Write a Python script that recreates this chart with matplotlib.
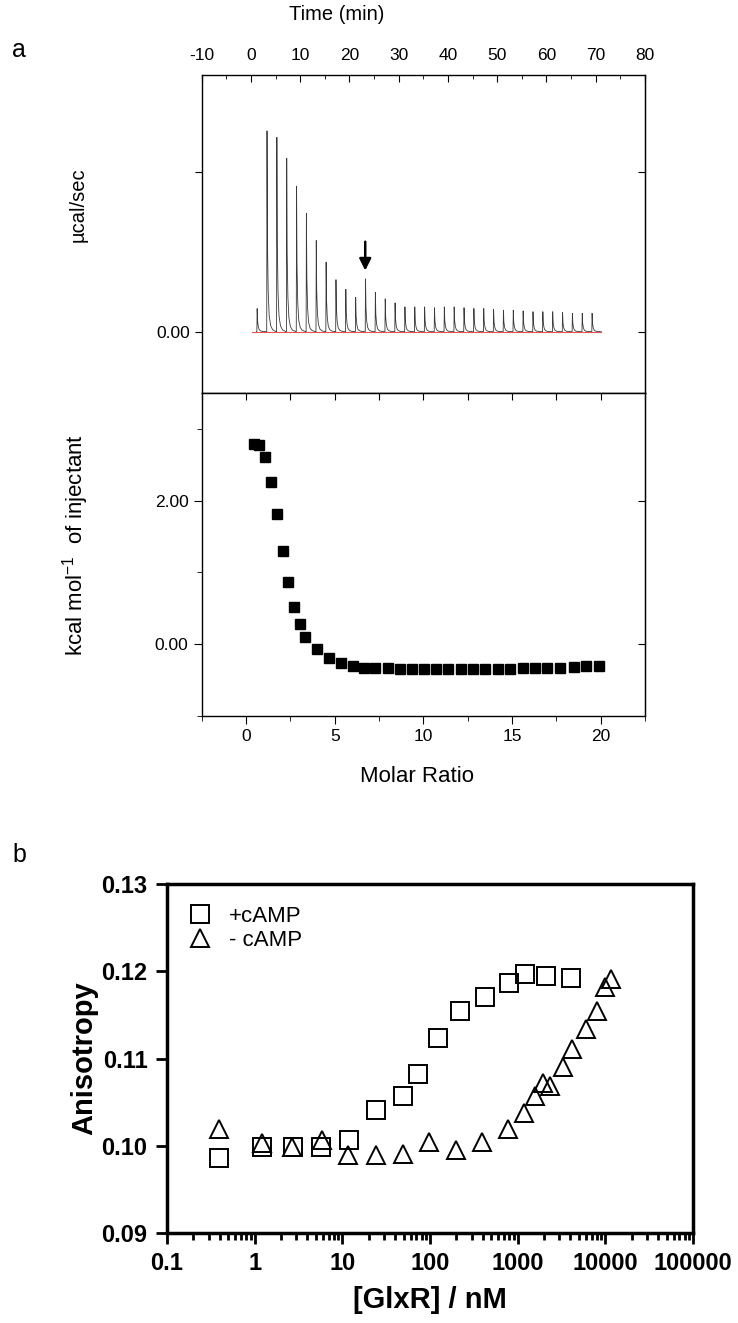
import matplotlib
matplotlib.use('Agg')
import matplotlib.pyplot as plt
from matplotlib.ticker import MultipleLocator, FixedLocator, FuncFormatter, LogLocator, NullFormatter
import numpy as np

plt.rcParams['font.family'] = ['Liberation Sans', 'DejaVu Sans']
plt.rcParams['axes.unicode_minus'] = False
plt.rcParams['mathtext.fontset'] = 'custom'
plt.rcParams['mathtext.rm'] = 'Liberation Sans'

# ---- panel a, raw ITC trace: one peak per injection
inj_time = [1.2, 3.2, 5.2, 7.2, 9.2, 11.2, 13.2, 15.2, 17.2, 19.2, 21.2, 23.2,
            25.2, 27.2, 29.2, 31.2, 33.2, 35.2, 37.2, 39.2, 41.2, 43.2, 45.2,
            47.2, 49.2, 51.2, 53.2, 55.2, 57.2, 59.2, 61.2, 63.2, 65.2, 67.2, 69.2]
peak_height = [0.029, 0.251, 0.243, 0.217, 0.182, 0.148, 0.114, 0.087, 0.065,
               0.053, 0.043, 0.066, 0.049, 0.041, 0.036, 0.031, 0.031, 0.031,
               0.030, 0.031, 0.031, 0.030, 0.029, 0.029, 0.028, 0.027, 0.027,
               0.026, 0.025, 0.025, 0.025, 0.024, 0.023, 0.023, 0.023]
baseline_time = [0.2, 71.0]
baseline_val = [0.0, 0.0]
arrow_time = 23.2

# ---- panel a, integrated heats
molar_ratio = [0.44, 0.73, 1.07, 1.39, 1.72, 2.06, 2.37, 2.69, 3.02, 3.34, 4.03,
               4.68, 5.34, 6.01, 6.66, 7.3, 8.0, 8.67, 9.36, 10.04, 10.7, 11.4,
               12.1, 12.8, 13.5, 14.2, 14.9, 15.6, 16.3, 17.0, 17.7, 18.5, 19.2, 19.9]
heat = [2.79, 2.77, 2.61, 2.26, 1.81, 1.30, 0.87, 0.52, 0.28, 0.10, -0.06,
        -0.19, -0.26, -0.30, -0.33, -0.33, -0.33, -0.35, -0.35, -0.35, -0.34,
        -0.35, -0.35, -0.34, -0.34, -0.34, -0.34, -0.33, -0.33, -0.33, -0.33,
        -0.32, -0.31, -0.30]

# ---- panel b, fluorescence anisotropy
glxr_plus = [0.393, 1.2, 2.71, 5.78, 12.05, 23.9, 49.2, 73.3, 123.6, 219, 419,
             800, 1206, 2110, 4030]
aniso_plus = [0.0986, 0.0998, 0.0998, 0.0999, 0.1007, 0.1041, 0.1057, 0.1082,
              0.1123, 0.1154, 0.1170, 0.1186, 0.1197, 0.1194, 0.1192]
glxr_minus = [0.393, 1.2, 2.7, 5.8, 11.6, 23.9, 48.6, 98.6, 196, 393, 776, 1170,
              1580, 1930, 2320, 3330, 4190, 6060, 7990, 10000, 11740]
aniso_minus = [0.1019, 0.1003, 0.0999, 0.1007, 0.0989, 0.0989, 0.0991, 0.1004,
               0.0995, 0.1004, 0.1019, 0.1037, 0.1057, 0.1072, 0.1069, 0.1090,
               0.1111, 0.1134, 0.1155, 0.1182, 0.1191]

W, H = 738, 1323
fig = plt.figure(figsize=(W / 100, H / 100), dpi=100)


def box(l, t, r, b):
    return [l / W, 1 - b / H, (r - l) / W, (b - t) / H]


# peak shape used to draw each injection
shape_dt = [-0.05, 0.0, 0.06, 0.15, 0.3, 0.5, 0.8, 1.2, 1.9]
shape_fr = [0.0, 0.0, 1.0, 0.45, 0.2, 0.08, 0.03, 0.01, 0.0]

ax1 = fig.add_axes(box(201.7, 75, 645, 393))
tx, ty = [], []
for t, h in zip(inj_time, peak_height):
    tx.extend([t + d for d in shape_dt])
    ty.extend([h * f for f in shape_fr])
ax1.plot(baseline_time, baseline_val, color='#e05555', lw=0.8, zorder=3)
ax1.plot(tx, ty, color='#3a3a3a', lw=0.6, zorder=2)
ax1.annotate('', xy=(arrow_time, 0.073), xytext=(arrow_time, 0.116),
             arrowprops=dict(arrowstyle='-|>,head_width=0.35,head_length=0.7',
                             color='black', lw=1.8))
ax1.set_xlim(-10, 80)
ax1.set_ylim(-0.0766, 0.3209)
ax1.xaxis.set_ticks_position('top')
ax1.xaxis.set_major_locator(MultipleLocator(10))
ax1.xaxis.set_minor_locator(MultipleLocator(5))
ax1.tick_params(axis='x', which='both', direction='in', top=True, bottom=False,
                labeltop=True, labelbottom=False, labelsize=12.5, pad=9)
ax1.tick_params(axis='x', which='major', length=5)
ax1.tick_params(axis='x', which='minor', length=3)
ax1.yaxis.set_major_locator(FixedLocator([0.0, 0.2]))
ax1.yaxis.set_major_formatter(FuncFormatter(lambda v, p: '0.00' if abs(v) < 1e-9 else ''))
ax1.tick_params(axis='y', which='major', direction='out', length=5, labelsize=12.5)
r1 = ax1.secondary_yaxis('right')
r1.yaxis.set_major_locator(FixedLocator([0.0, 0.2]))
r1.tick_params(direction='in', length=5, labelright=False)
for s in ax1.spines.values():
    s.set_linewidth(1.0)

ax2 = fig.add_axes(box(201.7, 393, 645, 716))
ax2.plot(molar_ratio, heat, 's', color='black', ms=7)
ax2.set_xlim(-2.5, 22.5)
ax2.set_ylim(-1.0, 3.5)
ax2.xaxis.set_major_locator(MultipleLocator(5))
ax2.xaxis.set_minor_locator(MultipleLocator(2.5))
ax2.yaxis.set_major_locator(FixedLocator([0.0, 2.0]))
ax2.yaxis.set_minor_locator(FixedLocator([-1.0, 1.0, 3.0]))
ax2.yaxis.set_major_formatter(FuncFormatter(lambda v, p: '%.2f' % v))
ax2.tick_params(which='both', direction='out', labelsize=12.5, top=False, right=False)
ax2.tick_params(which='major', length=6)
ax2.tick_params(which='minor', length=3.5)
t2 = ax2.secondary_xaxis('top')
t2.xaxis.set_major_locator(MultipleLocator(2.5))
t2.tick_params(direction='in', length=5, labeltop=False)
r2 = ax2.secondary_yaxis('right')
r2.yaxis.set_major_locator(FixedLocator([0.0, 2.0]))
r2.tick_params(direction='in', length=5, labelright=False)
for s in ax2.spines.values():
    s.set_linewidth(1.0)

fig.text(12 / W, 1 - 50 / H, 'a', fontsize=18, va='center', ha='left')
fig.text(337 / W, 1 - 14 / H, 'Time (min)', fontsize=14.5, ha='center', va='center')
fig.text(78 / W, 1 - 205 / H, 'µcal/sec', fontsize=14.5, rotation=90, ha='center', va='center')
fig.text(76 / W, 1 - 545 / H, 'kcal mol$^{\\mathregular{-1}}$  of injectant', fontsize=16,
         rotation=90, ha='center', va='center')
fig.text(417 / W, 1 - 776 / H, 'Molar Ratio', fontsize=16, ha='center', va='center')

# ---- panel b
bfont = ['Liberation Sans Narrow', 'Liberation Sans', 'DejaVu Sans']
ax3 = fig.add_axes(box(167, 884, 693, 1233))
ax3.plot(glxr_plus, aniso_plus, 's', mfc='none', mec='black', mew=1.4, ms=13,
         label='+cAMP')
ax3.plot(glxr_minus, aniso_minus, '^', mfc='none', mec='black', mew=1.4, ms=13,
         label='- cAMP')
ax3.set_xscale('log')
ax3.set_xlim(0.1, 100000)
ax3.set_ylim(0.09, 0.13)
ax3.xaxis.set_major_locator(LogLocator(base=10, numticks=10))
ax3.xaxis.set_minor_locator(LogLocator(base=10, subs=np.arange(2, 10), numticks=10))
ax3.xaxis.set_minor_formatter(NullFormatter())
ax3.xaxis.set_major_formatter(FuncFormatter(lambda v, p: ('%g' % v) if v < 1 else '%d' % round(v)))
ax3.yaxis.set_major_locator(MultipleLocator(0.01))
ax3.yaxis.set_major_formatter(FuncFormatter(lambda v, p: '%.2f' % v))
ax3.tick_params(which='both', direction='out', width=2, top=False, right=False)
ax3.tick_params(which='major', length=8, labelsize=17, pad=6)
ax3.tick_params(which='minor', length=5)
for lab in ax3.get_xticklabels() + ax3.get_yticklabels():
    lab.set_family(bfont)
    lab.set_fontweight('bold')
for s in ax3.spines.values():
    s.set_linewidth(2.5)
ax3.legend(loc='upper left', bbox_to_anchor=(0.02, 0.97), frameon=False,
           handlelength=1.0, handletextpad=0.8, labelspacing=0.15, borderpad=0,
           prop={'family': bfont, 'size': 16})

fig.text(12 / W, 1 - 855 / H, 'b', fontsize=18, va='center', ha='left')
fig.text(84 / W, 1 - 1058 / H, 'Anisotropy', fontsize=21, fontweight='bold',
         family=bfont, rotation=90, ha='center', va='center')
fig.text(430 / W, 1 - 1300 / H, '[GlxR] / nM', fontsize=21, fontweight='bold',
         family=bfont, ha='center', va='center')

fig.savefig('out.png', dpi=100)
